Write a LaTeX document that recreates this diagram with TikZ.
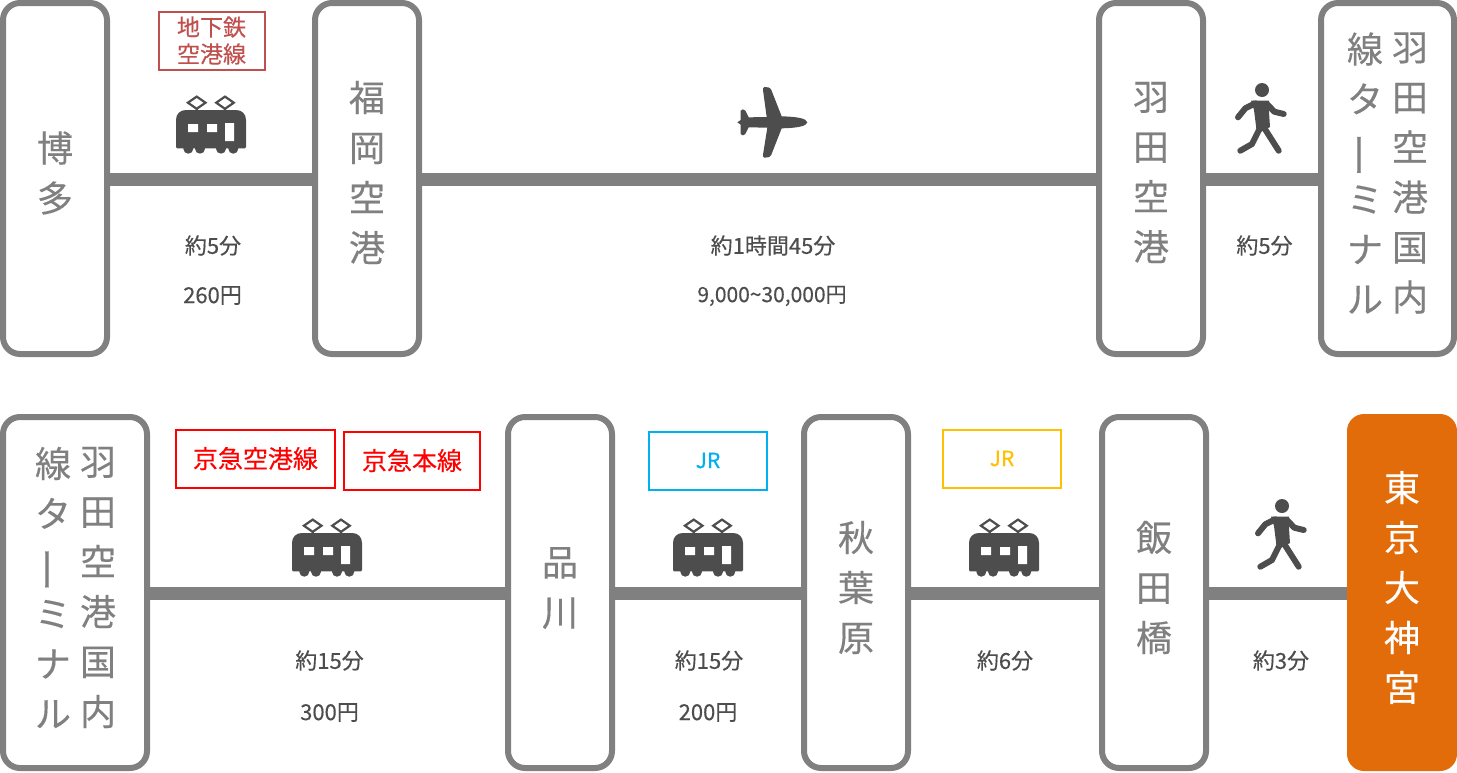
\documentclass[tikz,border=0pt]{standalone}
\usepackage{fontspec}
\setmainfont{Noto Sans CJK JP}[RawFeature={embolden=0.3}]
\definecolor{railc}{HTML}{808080}
\definecolor{iconc}{HTML}{4D4D4D}
\definecolor{subway}{HTML}{C0504D}
\definecolor{jrblue}{HTML}{00B0F0}
\definecolor{jryellow}{HTML}{FFC000}
\definecolor{dest}{HTML}{E36C0A}
\newcommand{\vbar}{\rotatebox[origin=c]{90}{\scalebox{1.25}[1]{ー}}}
\tikzset{
  stn/.style={draw=railc,line width=6pt,fill=white,rounded corners=17pt,minimum height=351pt,inner sep=0pt,outer sep=0pt},
  stnwide/.style={stn,minimum width=104pt},
  stnterm/.style={stn,minimum width=133pt},
  stntext/.style={text=railc,font=\fontsize{36}{50}\selectfont,align=center,inner sep=0pt},
  rail/.style={draw=railc,line width=13pt},
  info/.style={text=iconc,font=\fontsize{22}{26}\selectfont,inner sep=0pt},
  tag/.style={draw=#1,text=#1,line width=2pt,fill=white,inner sep=0pt,align=center},
  trainicon/.pic={
    \fill[iconc] (0,51) -- (0,24) .. controls (0,18) and (4,14) .. (10,14) -- (60,14) .. controls (66,14) and (70,18) .. (70,24) -- (70,51) -- (69,52.3) -- (1,52.3) -- cycle;
    \foreach \wx in {12.3,24,45,57.3} {\fill[iconc] (\wx,52.7) circle[radius=5pt];}
    \fill[white] (12,28) rectangle (22,36) (31,28) rectangle (41,36) (49,27) rectangle (58,45);
    \draw[iconc,line width=2.2pt] (20.7,0.6) -- (29.5,6.7) -- (20.7,12.8) -- (11.9,6.7) -- cycle (49,0.6) -- (57.8,6.7) -- (49,12.8) -- (40.2,6.7) -- cycle (20.7,12.8) -- (20.7,15) (49,12.8) -- (49,15);
  },
  walkicon/.pic={
    \fill[iconc] (0,0) circle[radius=7pt];
    \fill[iconc] (-11,10.5) -- (7,10.5) -- (7,22) -- (8,37) -- (-5,44) -- (-7,28) -- (-8,20) -- cycle;
    \draw[iconc,line width=6pt,line cap=round,line join=round]
      (-6.7,13.3) -- (-16.7,18.3) -- (-24,27.3)
      (5,14) -- (12.3,21.7) -- (21.7,24)
      (-2,38) -- (-10,54) -- (-21.7,60.7)
      (1,36) -- (16.7,60.7);
  }
}
\begin{document}
\begin{tikzpicture}[x=1pt,y=-1pt]
\useasboundingbox (0,0) rectangle (1457,772);
% stations, first row
\node[stnwide] (hakata) at (55,178.5) {};
\node[stnwide] (fukuoka) at (367,178.5) {};
\node[stnwide] (haneda) at (1151,178.5) {};
\node[stnterm] (termA) at (1387.5,178.5) {};
% stations, second row
\node[stnterm,minimum width=144pt] (termB) at (75,592.5) {};
\node[stnwide] (shinagawa) at (560,592.5) {};
\node[stnwide] (akiba) at (856,592.5) {};
\node[stnwide] (iidabashi) at (1154,592.5) {};
\node[fill=dest,rounded corners=17pt,minimum width=110pt,minimum height=357pt,inner sep=0pt,outer sep=0pt] (jingu) at (1402,592.5) {};
% rails
\draw[rail] ([yshift=-1pt]hakata.east) -- ([yshift=-1pt]fukuoka.west);
\draw[rail] ([yshift=-1pt]fukuoka.east) -- ([yshift=-1pt]haneda.west);
\draw[rail] ([yshift=-1pt]haneda.east) -- ([yshift=-1pt]termA.west);
\draw[rail] ([yshift=-1pt]termB.east) -- ([yshift=-1pt]shinagawa.west);
\draw[rail] ([yshift=-1pt]shinagawa.east) -- ([yshift=-1pt]akiba.west);
\draw[rail] ([yshift=-1pt]akiba.east) -- ([yshift=-1pt]iidabashi.west);
\draw[rail] ([yshift=-1pt]iidabashi.east) -- ([yshift=-1pt]jingu.west);
% station names
\node[stntext] (hakataT) at (55,173) {博\\多};
\node[stntext] (fukuokaT) at (367,172.5) {福\\岡\\空\\港};
\node[stntext] (hanedaT) at (1151,172.5) {羽\\田\\空\\港};
\node[stntext] (termAa) at (1410,173) {羽\\田\\空\\港\\国\\内};
\node[stntext] (termAb) at (1365,173) {線\\タ\\\vbar\\ミ\\ナ\\ル};
\node[stntext] (termBa) at (98,587.5) {羽\\田\\空\\港\\国\\内};
\node[stntext] (termBb) at (53,587.5) {線\\タ\\\vbar\\ミ\\ナ\\ル};
\node[stntext] (shinagawaT) at (560,588) {品\\川};
\node[stntext] (akibaT) at (856,587.5) {秋\\葉\\原};
\node[stntext] (iidabashiT) at (1154,587.5) {飯\\田\\橋};
\node[stntext,text=white] (jinguT) at (1402,587.5) {東\\京\\大\\神\\宮};
% line tags
\node[tag=subway,minimum width=106pt,minimum height=58pt,font=\fontsize{23}{27}\selectfont] (tagA) at (211.5,40.5) {地下鉄\\空港線};
\node[tag=red,minimum width=159pt,minimum height=58pt,font=\fontsize{25}{30}\selectfont] (tagB) at (255.5,458.5) {京急空港線};
\node[tag=red,minimum width=136pt,minimum height=58pt,font=\fontsize{25}{30}\selectfont] (tagC) at (412,460.5) {京急本線};
\node[tag=jrblue,minimum width=118pt,minimum height=58pt,font=\fontsize{21}{24}\selectfont] (tagD) at (708,460.5) {JR};
\node[tag=jryellow,minimum width=118pt,minimum height=58pt,font=\fontsize{21}{24}\selectfont] (tagE) at (1002,458.5) {JR};
% icons
\pic at (176,96) {trainicon};
\pic at (292,519) {trainicon};
\pic at (673,519) {trainicon};
\pic at (969,519) {trainicon};
\pic at (1262,90) {walkicon};
\pic at (1282,506) {walkicon};
\begin{scope}[shift={(700,70)},x=0.33333pt,y=-0.33333pt]
\fill[iconc] (322,157) .. controls (320,145) and (290,140) .. (245,139)
      -- (214,60) .. controls (211,52) and (200,50) .. (193,51) .. controls (189,52) and (189,56) .. (189,60)
      -- (200,141) -- (146,142) -- (136,122) .. controls (134,117) and (123,116) .. (122,122)
      -- (122,150) -- (112,157) -- (122,164) -- (122,192) .. controls (123,198) and (134,197) .. (136,192)
      -- (146,172) -- (202,173) -- (189,254) .. controls (189,258) and (189,262) .. (193,263) .. controls (200,264) and (211,262) .. (214,254)
      -- (245,175) .. controls (290,174) and (320,169) .. (322,157) -- cycle;
\end{scope}
% times and fares
\node[info] (t1) at (213,245.5) {約5分};
\node[info] (f1) at (212.5,295.5) {260円};
\node[info] (t2) at (773,245.5) {約1時間45分};
\node[info,font=\fontsize{21}{26}\selectfont] (f2) at (772,296) {9,000\char`~30,000円};
\node[info] (t3) at (1264.5,245.5) {約5分};
\node[info] (t4) at (329.5,660.5) {約15分};
\node[info] (f4) at (329.5,712.5) {300円};
\node[info] (t5) at (709,660.5) {約15分};
\node[info] (f5) at (708,712.5) {200円};
\node[info] (t6) at (1005,660.5) {約6分};
\node[info] (t7) at (1281,660.5) {約3分};
\end{tikzpicture}
\end{document}
